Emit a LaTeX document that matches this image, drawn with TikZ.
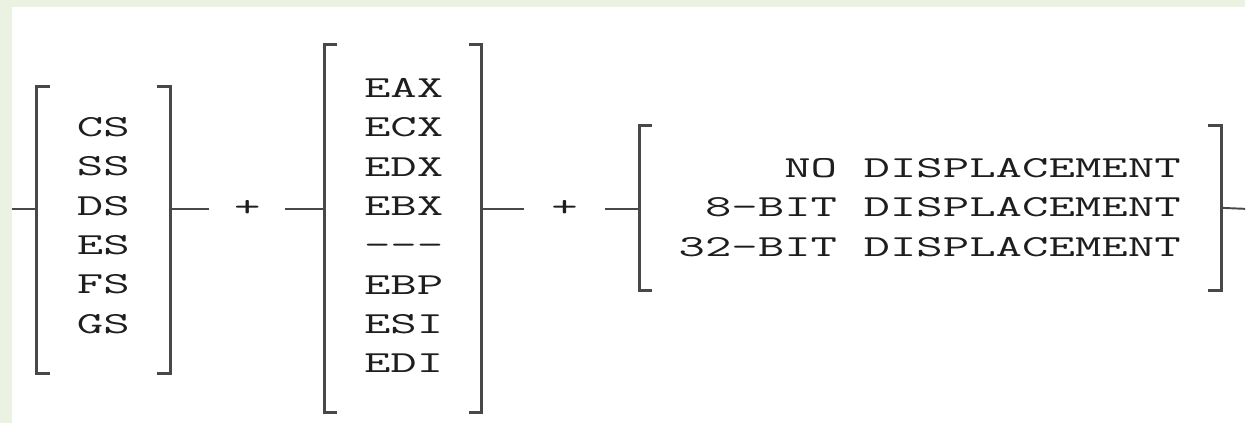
\documentclass[tikz,border=0pt]{standalone}
\usepackage{graphicx}

\definecolor{sidegreen}{RGB}{235,242,225}
\definecolor{inkgray}{RGB}{72,72,72}
\definecolor{txtgray}{RGB}{30,30,30}

\newcommand\regcol[2]{\scalebox{1.68}[1]{\begin{tabular}{@{}#1@{}}#2\end{tabular}}}
\newcommand\brackets[1]{%
  \draw[brkline] (#1.north west) ++(13,0) -| (#1.south west) -- ++(13,0);
  \draw[brkline] (#1.north east) ++(-13,0) -| (#1.south east) -- ++(-13,0);}

\tikzset{
  regtext/.style={inner sep=0pt,text=txtgray,font=\fontsize{17.4}{22.4}\selectfont\ttfamily},
  brk/.style={draw=none,inner sep=0pt},
  brkline/.style={draw=inkgray,line width=1.7pt},
  link/.style={draw=inkgray,line width=1.1pt},
}

\begin{document}
\begin{tikzpicture}[x=0.02cm,y=-0.02cm]
   \def\px{0.02cm}
   \fill[sidegreen] (0,0) rectangle (1246,423);
   \fill[white] (12,7) rectangle (1246,423);
   \coordinate (in) at (12,209);
   \coordinate (out) at (1246,209);
   \node[brk,minimum width=133*\px,minimum height=286*\px] (g1) at (103.5,230) {};
   \node[brk,minimum width=157*\px,minimum height=367*\px] (g2) at (403.5,228.5) {};
   \node[brk,minimum width=582*\px,minimum height=164*\px] (g3) at (931,208) {};
   \node[regtext] (seg) at (103.5,227) {\regcol{c}{CS\\SS\\DS\\ES\\FS\\GS}};
   \node[regtext] (base) at (404,227.5)
     {\regcol{c}{EAX\\ECX\\EDX\\EBX\\-\kern0pt-\kern0pt-\\EBP\\ESI\\EDI}};
   \node[regtext,anchor=east] (disp) at (1182,209)
     {\regcol{r}{NO DISPLACEMENT\\8-BIT DISPLACEMENT\\32-BIT DISPLACEMENT}};
   \node[regtext,minimum width=75*\px] (p1) at (247.5,209) {\regcol{c}{+}};
   \node[regtext,minimum width=80*\px] (p2) at (565,209) {\regcol{c}{+}};
   \foreach \g in {g1,g2,g3} {\brackets{\g}}
   \draw[link] (in) -- (in -| g1.west);
   \draw[link] (p1 -| g1.east) -- (p1.west);
   \draw[link] (p1.east) -- (p1 -| g2.west);
   \draw[link] (p2 -| g2.east) -- (p2.west);
   \draw[link] (p2.east) -- (p2 -| g3.west);
   \draw[link] (g3.east) -- (out);
\end{tikzpicture}
\end{document}
